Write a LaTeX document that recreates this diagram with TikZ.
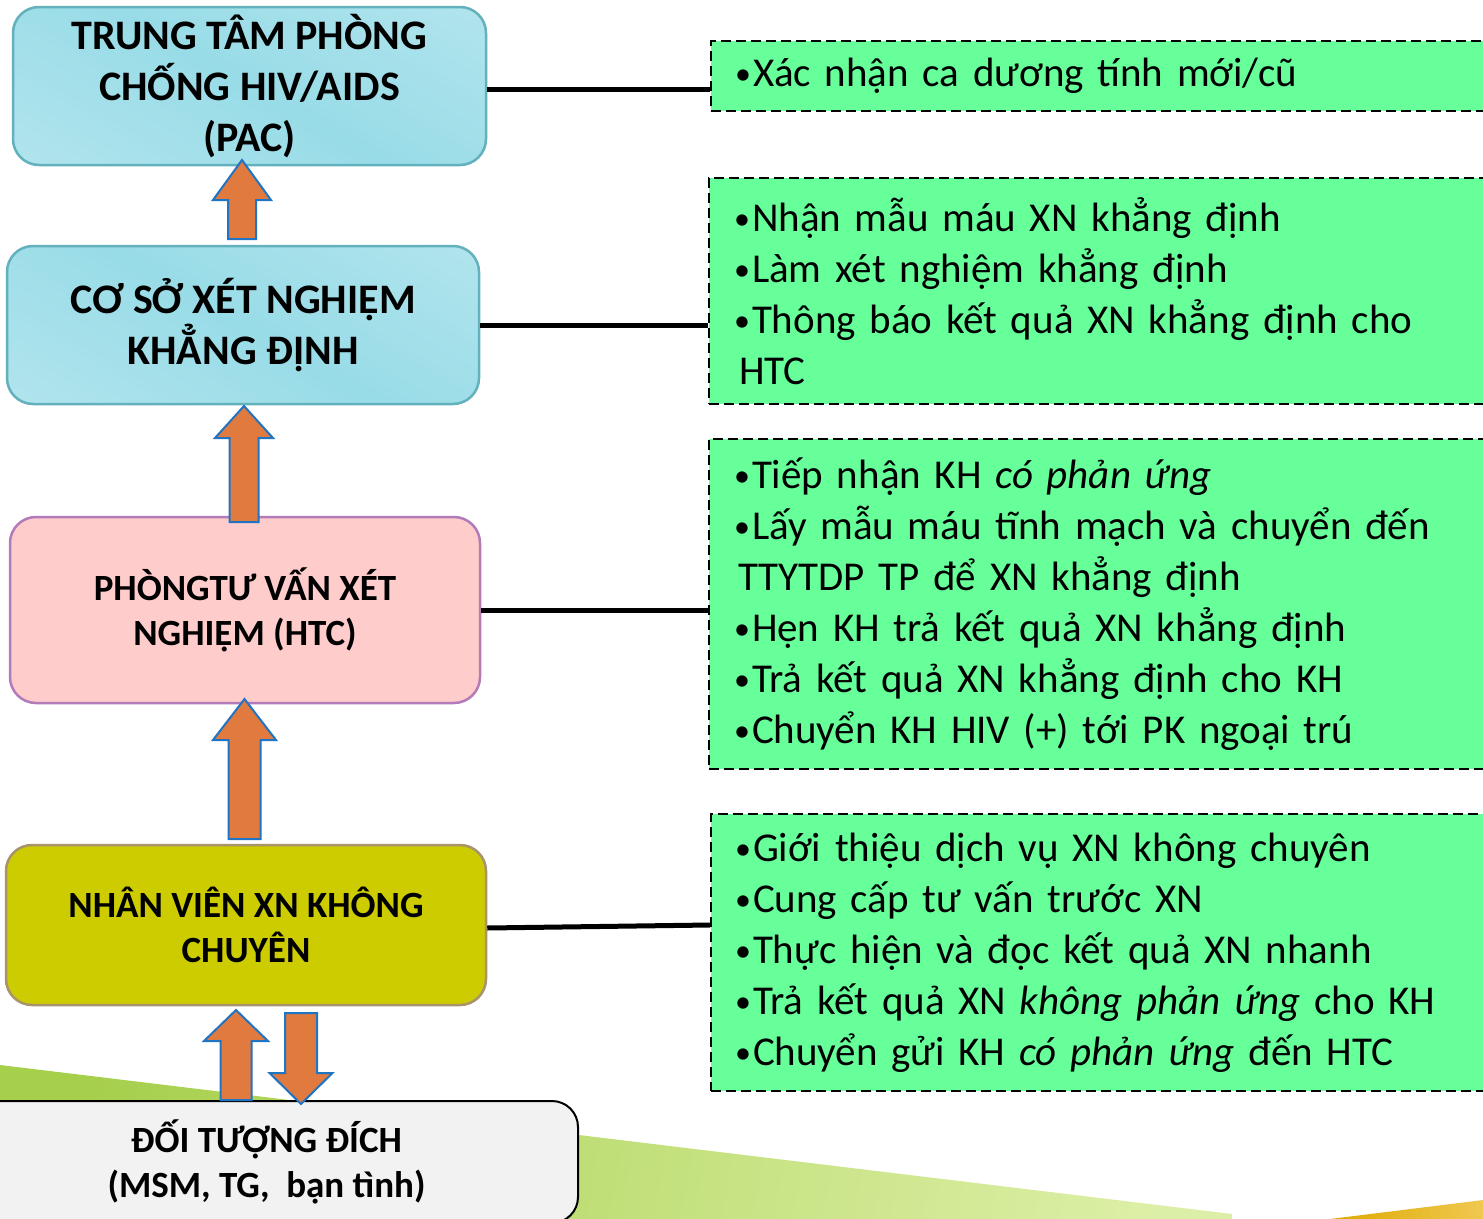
\documentclass[tikz,border=0pt]{standalone}
\usepackage{fontspec}
\setmainfont{Carlito}
\usetikzlibrary{calc}
\definecolor{cyanfill}{HTML}{98DCE7}
\definecolor{cyanlight}{HTML}{BDE8F0}
\definecolor{cyanline}{HTML}{62B1BD}
\definecolor{pinkfill}{HTML}{FFCCCC}
\definecolor{pinkline}{HTML}{B37BBA}
\definecolor{olivefill}{HTML}{CCCC00}
\definecolor{oliveline}{HTML}{A8936A}
\definecolor{greyfill}{HTML}{F2F2F2}
\definecolor{gboxfill}{HTML}{66FF99}
\definecolor{arrfill}{HTML}{E07A3E}
\definecolor{arrline}{HTML}{2074C4}
\definecolor{bgA}{HTML}{A6CF4C}
\definecolor{bgB}{HTML}{DCEFA6}
\definecolor{goldA}{HTML}{DDAA00}
\definecolor{goldB}{HTML}{F0C850}
\pgfdeclarehorizontalshading{cyanshade}{100bp}{color(0bp)=(cyanlight); color(50bp)=(cyanfill); color(100bp)=(cyanlight)}
\newcommand\bul{\makebox[16pt][l]{\hspace*{-2pt}\raisebox{2pt}{\fontsize{32}{51}\selectfont •}}}
\newcommand\blkup[5]{%
  \filldraw[blockarrow] (#1) -- ($(#1)+(#4,#5)$) -- ($(#1)+(#3,#5)$) -- ($(#2)+(#3,0)$) -- ($(#2)+(-#3,0)$) -- ($(#1)+(-#3,#5)$) -- ($(#1)+(-#4,#5)$) -- cycle;}
\newcommand\blkdown[5]{%
  \filldraw[blockarrow] (#1) -- ($(#1)+(#4,-#5)$) -- ($(#1)+(#3,-#5)$) -- ($(#2)+(#3,0)$) -- ($(#2)+(-#3,0)$) -- ($(#1)+(-#3,-#5)$) -- ($(#1)+(-#4,-#5)$) -- cycle;}
\begin{document}
\begin{tikzpicture}[x=1pt,y=-1pt,
  lbox/.style={rounded corners=26pt, line width=2.5pt, align=center, inner sep=0pt},
  bigfont/.style={font=\bfseries\fontsize{42}{51}\selectfont},
  smallfont/.style={font=\bfseries\fontsize{37}{45}\selectfont},
  cyanbox/.style={lbox, draw=cyanline, shading=cyanshade, shading angle=60, bigfont},
  pinkbox/.style={lbox, draw=pinkline, fill=pinkfill, smallfont},
  olivebox/.style={lbox, draw=oliveline, fill=olivefill, smallfont},
  greybox/.style={lbox, draw=black, line width=2pt, fill=greyfill, smallfont},
  gbox/.style={draw=black, dashed, dash pattern=on 10pt off 5pt, line width=2pt, fill=gboxfill,
    align=left, font=\fontsize{41}{51}\selectfont, inner ysep=0pt, inner xsep=26pt,
    anchor=west, minimum width=800pt, text width=748pt},
  conn/.style={draw=black, line width=5pt},
  blockarrow/.style={fill=arrfill, draw=arrline, line width=2pt, line join=miter}
]
\useasboundingbox (0,0) rectangle (1483,1218);
% background
\fill[fill=white] (0,0) rectangle (1483,1218);
\shade[left color=bgA, right color=bgB, shading angle=80] (0,1065) -- (1232,1214) -- (1232,1220) -- (0,1220) -- cycle;
\shade[left color=goldA, right color=goldB] (1330,1219) -- (1483,1200) -- (1483,1219) -- cycle;

% left boxes
\node[cyanbox, minimum width=473pt, minimum height=158pt] (pac) at (249.5,86) {TRUNG TÂM PHÒNG\\CHỐNG HIV/AIDS\\(PAC)};
\node[cyanbox, minimum width=472pt, minimum height=158pt] (cs) at (243,325) {CƠ SỞ XÉT NGHIỆM\\KHẲNG ĐỊNH};
\node[pinkbox, minimum width=470pt, minimum height=186pt] (htc) at (245,610) {PHÒNGTƯ VẤN XÉT\\NGHIỆM (HTC)};
\node[olivebox, minimum width=480pt, minimum height=160pt] (nv) at (246,925) {NHÂN VIÊN XN KHÔNG\\CHUYÊN};
\node[greybox, minimum width=623pt, minimum height=122pt] (dt) at (266.5,1162) {ĐỐI TƯỢNG ĐÍCH\\(MSM, TG,\ \ bạn tình)};

% right boxes
\node[gbox, minimum height=70pt] (g1) at (710,76) {\bul Xác nhận ca dương tính mới/cũ};
\node[gbox, minimum height=226pt, inner xsep=27pt] (g2) at (708,291) {\bul Nhận mẫu máu XN khẳng định\\
\bul Làm xét nghiệm khẳng định\\
\bul Thông báo kết quả XN khẳng định cho\\
\hspace*{3pt}HTC};
\node[gbox, minimum height=330pt, inner xsep=27pt] (g3) at (708,604) {\bul Tiếp nhận KH \textit{có phản ứng}\\
\bul Lấy mẫu máu tĩnh mạch và chuyển đến\\
\hspace*{2pt}TTYTDP TP để XN khẳng định\\
\bul Hẹn KH trả kết quả XN khẳng định\\
\bul Trả kết quả XN khẳng định cho KH\\
\bul Chuyển KH HIV (+) tới PK ngoại trú};
\node[gbox, minimum height=277pt] (g4) at (710,952.5) {\bul Giới thiệu dịch vụ XN không chuyên\\
\bul Cung cấp tư vấn trước XN\\
\bul Thực hiện và đọc kết quả XN nhanh\\
\bul Trả kết quả XN \textit{không phản ứng} cho KH\\
\bul Chuyển gửi KH \textit{có phản ứng} đến HTC};

% connectors
\draw[conn] (pac.east |- 0,89) -- (g1.west |- 0,89);
\draw[conn] (cs.east) -- (g2.west |- cs.east);
\draw[conn] (htc.east) -- (g3.west |- htc.east);
\draw[conn] ($(nv.east)+(0,3)$) -- (g4.west |- nv.east);

% block arrows
\coordinate (a1t) at (242,160);   \coordinate (a1b) at (242,239);
\coordinate (a2t) at (244,406);   \coordinate (a2b) at (244,522);
\coordinate (a3t) at (244.5,699); \coordinate (a3b) at (244.5,839);
\coordinate (a4t) at (236,1010);  \coordinate (a4b) at (236,1100);
\coordinate (a5t) at (301,1104);  \coordinate (a5b) at (301,1013);
\blkup{a1t}{a1b}{14}{29}{40}
\blkup{a2t}{a2b}{14.5}{29}{32}
\blkup{a3t}{a3b}{16}{31.5}{41}
\blkup{a4t}{a4b}{15.5}{32}{31}
\blkdown{a5t}{a5b}{16}{31.5}{31}
\end{tikzpicture}
\end{document}
